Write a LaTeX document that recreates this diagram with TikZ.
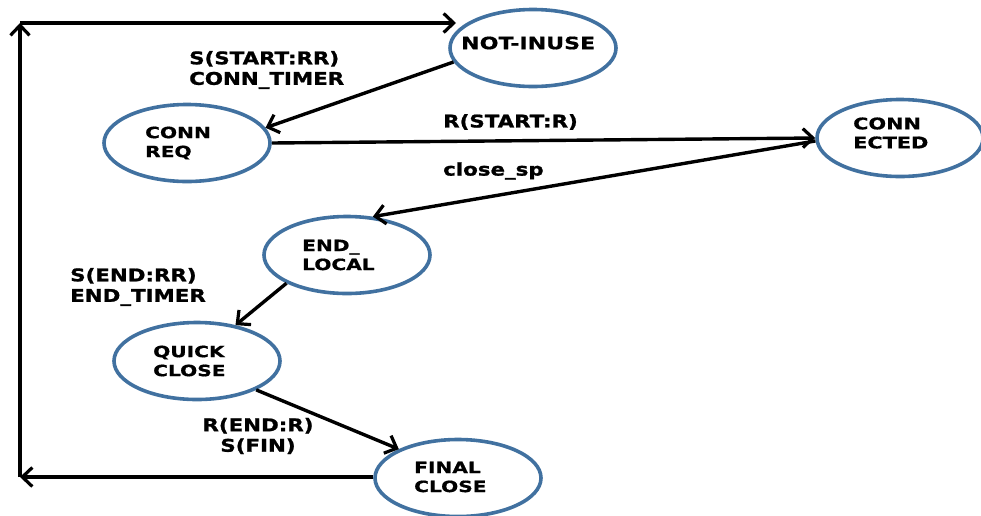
\documentclass[tikz,border=0pt]{standalone}
\usepackage{fontspec}
\usetikzlibrary{shapes.geometric,arrows.meta}
\newfontfamily\labfam[FakeStretch=1.22,FakeBold=1.2]{DejaVu Sans}
\newfontfamily\nodefam[FakeStretch=1.3,FakeBold=0.8]{DejaVu Sans}
\definecolor{ringblue}{RGB}{65,113,160}
\tikzset{
  state/.style={draw=ringblue, line width=3.6pt, ellipse, minimum width=166pt, minimum height=77pt, inner sep=0pt},
  stext/.style={rectangle, inner sep=0pt, anchor=west, align=left, font=\nodefam\bfseries\fontsize{15.5}{19}\selectfont},
  arr/.style={draw=black, line width=3.4pt, -{Straight Barb[length=10pt,width=19pt,line width=3.2pt]}},
  lab/.style={align=left, inner sep=0pt, font=\labfam\bfseries\fontsize{17.5}{20.5}\selectfont}
}
\begin{document}
\begin{tikzpicture}[x=1pt,y=-1pt]
\useasboundingbox (0,0) rectangle (981,515);
\node[state] (ni) at (533,48) {};
\node[state] (cr) at (187,143) {};
\node[state] (cn) at (900,138) {};
\node[state] (el) at (347,255) {};
\node[state] (qc) at (197,361) {};
\node[state] (fc) at (458,478) {};
\node[stext, font=\nodefam\bfseries\fontsize{17}{19}\selectfont] (tni) at (461,43) {NOT-INUSE};
\node[stext] (tcr) at (145,143) {CONN\\REQ};
\node[stext, font=\nodefam\bfseries\fontsize{16}{19}\selectfont] (tcn) at (853,133) {CONN\\ECTED};
\node[stext] (tel) at (302,255) {END\_\\LOCAL};
\node[stext] (tqc) at (153,361) {QUICK\\CLOSE};
\node[stext] (tfc) at (414,477) {FINAL\\CLOSE};
\coordinate (bl) at (20,477);
\coordinate (tl) at (20,23);
\coordinate (ta) at (456,23);
\draw[arr] (ni.190) -- (cr.11);
\draw[arr] (cr.0) -- (cn.180);
\draw[arr] (cn.182) -- (el.56);
\draw[arr] (el.205) -- (qc.43);
\draw[arr] (qc.334) -- (fc.154);
\draw[arr] (fc.west |- bl) -- (bl);
\draw[arr] (bl) -- (tl);
\draw[arr] (tl) -- (ta);
\node[lab, anchor=west] (l1) at (189,70) {S(START:RR)\\CONN\_TIMER};
\node[lab, anchor=west] (l2) at (443,122) {R(START:R)};
\node[lab, anchor=west] (l3) at (443,171) {close\_sp};
\node[lab, anchor=west] (l4) at (70,287) {S(END:RR)\\END\_TIMER};
\node[lab, align=center] (l5) at (258,436) {R(END:R)\\S(FIN)};
\end{tikzpicture}
\end{document}
